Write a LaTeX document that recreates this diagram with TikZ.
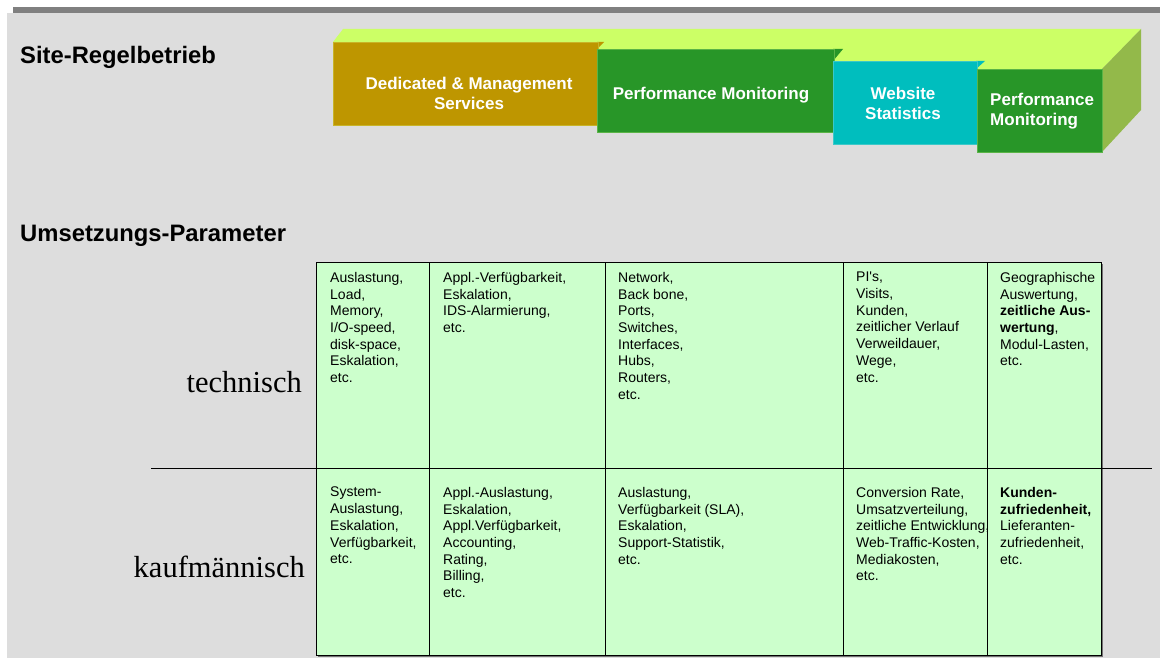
\documentclass[tikz,border=0pt]{standalone}
\usepackage{fontspec}
\setmainfont{Liberation Serif}
\newfontfamily\arial{Liberation Sans}
\definecolor{bg}{RGB}{221,221,221}
\definecolor{topbar}{RGB}{128,128,128}
\definecolor{lime}{RGB}{204,255,102}
\definecolor{sideface}{RGB}{147,185,74}
\definecolor{gold}{RGB}{190,150,0}
\definecolor{goldedge}{RGB}{200,180,40}
\definecolor{fgreen}{RGB}{40,150,40}
\definecolor{fgreenedge}{RGB}{90,180,70}
\definecolor{teal}{RGB}{0,190,190}
\definecolor{tealedge}{RGB}{60,200,200}
\definecolor{cellgreen}{RGB}{204,255,204}
\begin{document}
\begin{tikzpicture}[x=1pt,y=-1pt,
  box/.style={anchor=north west, inner sep=0pt, line width=0.8pt},
  boxtxt/.style={inner sep=0pt, text=white, align=center, font=\arial\bfseries\fontsize{17}{20}\selectfont},
  cell/.style={draw=black, line width=1pt, fill=cellgreen, inner sep=0pt, anchor=north west},
  txt/.style={anchor=north west, inner sep=0pt, align=left, font=\arial\fontsize{14}{16.7}\selectfont},
  head/.style={anchor=base west, inner sep=0pt, font=\arial\bfseries\fontsize{23.8}{28}\selectfont},
  rowlbl/.style={anchor=base east, inner sep=0pt, font=\fontsize{30.5}{36}\selectfont}]
\useasboundingbox (0,0) rectangle (1160,658);
% background
\fill[bg] (7,13) rectangle (1160,658);
\fill[topbar] (13,7) rectangle (1160,13);
% headings
\node[head] (h1) at (20,64) {Site-Regelbetrieb};
\node[head] (h2) at (20,241) {Umsetzungs-Parameter};
% 3D bar
\fill[lime] (333,42) -- (343,29) -- (1141,29) -- (1102,69) -- (333,69) -- cycle;
\fill[sideface] (1102,69) -- (1141,29) -- (1141,110) -- (1102,152) -- cycle;
\fill[gold] (597,42) -- (604,42) -- (597,49) -- cycle;
\node[box, fill=gold, draw=goldedge, minimum width=265pt, minimum height=83pt] (ded) at (333,42) {};
\fill[fgreen] (833,49) -- (843,49) -- (833,61) -- cycle;
\node[box, fill=fgreen, draw=fgreenedge, minimum width=237pt, minimum height=83pt] (perf1) at (597,49) {};
\fill[teal] (976,61) -- (985,61) -- (976,69) -- cycle;
\node[box, fill=teal, draw=tealedge, minimum width=144pt, minimum height=83pt] (web) at (833,61) {};
\node[box, fill=fgreen, draw=fgreenedge, minimum width=125pt, minimum height=83pt] (perf2) at (977,69) {};
\node[boxtxt, anchor=north] (tded) at (469,77) {Dedicated \& Management\\Services};
\node[boxtxt, anchor=base] (tperf1) at (711,100) {Performance Monitoring};
\node[boxtxt, anchor=north] (tweb) at (903,87) {Website\\Statistics};
\node[boxtxt, anchor=north west, align=left] (tperf2) at (990,93) {Performance\\Monitoring};
% table shadow
\fill[black!55] (318,264) rectangle (1103,657);
% cells row 1
\node[cell, minimum width=113pt, minimum height=206pt] (c11) at (316,262) {};
\node[cell, minimum width=176pt, minimum height=206pt] (c12) at (429,262) {};
\node[cell, minimum width=238pt, minimum height=206pt] (c13) at (605,262) {};
\node[cell, minimum width=144pt, minimum height=206pt] (c14) at (843,262) {};
\node[cell, minimum width=114pt, minimum height=206pt] (c15) at (987,262) {};
% cells row 2
\node[cell, minimum width=113pt, minimum height=187pt] (c21) at (316,468) {};
\node[cell, minimum width=176pt, minimum height=187pt] (c22) at (429,468) {};
\node[cell, minimum width=238pt, minimum height=187pt] (c23) at (605,468) {};
\node[cell, minimum width=144pt, minimum height=187pt] (c24) at (843,468) {};
\node[cell, minimum width=114pt, minimum height=187pt] (c25) at (987,468) {};
% separator line
\coordinate (sepL) at (151,468);
\coordinate (sepR) at (1152,468);
\draw[line width=1pt] (sepL) -- (sepR);
% row labels
\node[rowlbl] (lt) at (302,392) {technisch};
\node[rowlbl] (lk) at (305,577) {kaufmännisch};
% texts row 1
\node[txt] (t11) at (330,272) {Auslastung,\\Load,\\Memory,\\I/O-speed,\\disk-space,\\Eskalation,\\etc.};
\node[txt] (t12) at (443,272) {Appl.-Verfügbarkeit,\\Eskalation,\\IDS-Alarmierung,\\etc.};
\node[txt] (t13) at (618,272) {Network,\\Back bone,\\Ports,\\Switches,\\Interfaces,\\Hubs,\\Routers,\\etc.};
\node[txt] (t14) at (856,272) {PI's,\\Visits,\\Kunden,\\zeitlicher Verlauf\\Verweildauer,\\Wege,\\etc.};
\node[txt] (t15) at (1000,272) {Geographische\\Auswertung,\\\textbf{zeitliche Aus-}\\\textbf{wertung},\\Modul-Lasten,\\etc.};
% texts row 2
\node[txt] (t21) at (330,487) {System-\\Auslastung,\\Eskalation,\\Verfügbarkeit,\\etc.};
\node[txt] (t22) at (443,487) {Appl.-Auslastung,\\Eskalation,\\Appl.Verfügbarkeit,\\Accounting,\\Rating,\\Billing,\\etc.};
\node[txt] (t23) at (618,487) {Auslastung,\\Verfügbarkeit (SLA),\\Eskalation,\\Support-Statistik,\\etc.};
\node[txt] (t24) at (856,487) {Conversion Rate,\\Umsatzverteilung,\\zeitliche Entwicklung,\\Web-Traffic-Kosten,\\Mediakosten,\\etc.};
\node[txt] (t25) at (1000,487) {\textbf{Kunden-}\\\textbf{zufriedenheit,}\\Lieferanten-\\zufriedenheit,\\etc.};
\end{tikzpicture}
\end{document}
